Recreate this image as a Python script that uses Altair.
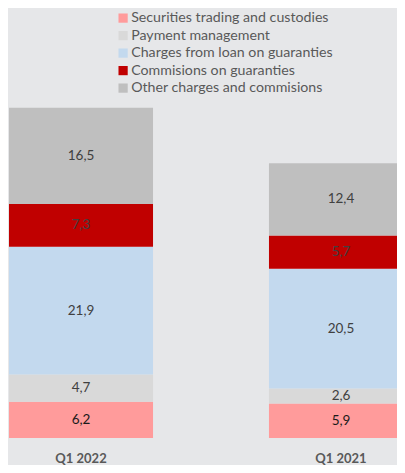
import altair as alt
import pandas as pd

quarters = ["Q1 2022", "Q1 2021"]
series = [
    "Securities trading and custodies",
    "Payment management",
    "Charges from loan on guaranties",
    "Commisions on guaranties",
    "Other charges and commisions",
]
colors = ["#FF9B9B", "#D9D9D9", "#C3D9EE", "#C00000", "#BFBFBF"]
values_2022 = [6.2, 4.7, 21.9, 7.3, 16.5]
values_2021 = [5.9, 2.6, 20.5, 5.7, 12.4]

rows = []
for q, vals in zip(quarters, [values_2022, values_2021]):
    for i, (s, v) in enumerate(zip(series, vals)):
        rows.append({"quarter": q, "series": s, "idx": i, "value": v,
                     "label": f"{v:.1f}".replace(".", ",")})
df = pd.DataFrame(rows)

FONT = "Lato"

base = alt.Chart(df).transform_stack(
    stack="value", groupby=["quarter"], as_=["y0", "y1"],
    sort=[alt.SortField("idx", order="ascending")]
).transform_calculate(mid="(datum.y0 + datum.y1) / 2")

xscale = alt.Scale(range=[1, 405], paddingInner=0.446, paddingOuter=0)
xenc = alt.X("quarter:N", sort=quarters, title=None, scale=xscale,
             axis=alt.Axis(domain=False, ticks=False, labelAngle=0,
                           labelFont=FONT, labelFontSize=13, labelFontWeight="bold",
                           labelColor="#595959", labelPadding=14))
yscale = alt.Scale(domain=[0, 60], nice=False, zero=True)

bars = base.mark_bar(clip=True).encode(
    x=xenc,
    y=alt.Y("y0:Q", scale=yscale, axis=None),
    y2="y1:Q",
    color=alt.Color("series:N", sort=series,
                    scale=alt.Scale(domain=series, range=colors),
                    legend=alt.Legend(title=None, orient="none", legendX=108, legendY=-77,
                                      symbolType="square", symbolSize=85,
                                      symbolStrokeWidth=0, labelLimit=0,
                                      labelFont=FONT, labelFontSize=14.2,
                                      labelColor="#595959", rowPadding=2.5,
                                      labelOffset=1)),
)

texts = base.mark_text(font=FONT, fontSize=13.5, clip=True).encode(
    x=alt.X("quarter:N", sort=quarters, scale=xscale),
    y=alt.Y("mid:Q", scale=yscale),
    text="label:N",
    color=alt.condition(alt.datum.idx == 0, alt.value("#1A1A1A"), alt.value("#404040")),
)

chart = alt.layer(bars, texts).properties(
    width=389, height=350,
    background="#E6E7E9",
    padding={"left": 0, "top": 80, "right": 0, "bottom": 27},
    autosize=alt.AutoSizeParams(type="none"),
).configure_view(stroke=None)

chart.save("out.html", embed_options={"renderer": "svg", "actions": False})
